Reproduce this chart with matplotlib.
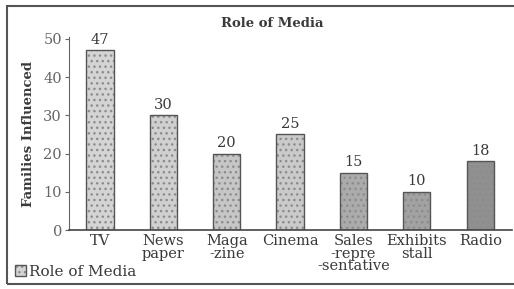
import matplotlib.pyplot as plt
from matplotlib.patches import Rectangle

media = ["TV", "News\npaper", "Maga\n-zine", "Cinema", "Sales\n-repre\n-sentative", "Exhibits\nstall", "Radio"]
families = [47, 30, 20, 25, 15, 10, 18]
shades = ["#d4d4d4", "#d0d0d0", "#c6c6c6", "#cacaca", "#ababab", "#a2a2a2", "#909090"]

plt.rcParams['font.family'] = ['DejaVu Serif']
ink = "#3a3a3a"

fig = plt.figure(figsize=(5.14, 2.89), dpi=100)
ax = fig.add_axes([0.134, 0.204, 0.862, 0.668])

bars = ax.bar(range(len(media)), families, width=0.43, color=shades,
              edgecolor="#555555", linewidth=1.0, hatch="...", label="Role of Media")
for b in bars:
    b._hatch_color = (0.55, 0.55, 0.55, 1.0)

for i, v in enumerate(families):
    ax.text(i, v + 0.9, str(v), ha="center", va="bottom", fontsize=10.5, color=ink)

ax.set_xlim(-0.49, 6.5)
ax.set_ylim(0, 50.5)
ax.set_yticks([0, 10, 20, 30, 40, 50])
ax.set_xticks(range(len(media)))
ax.set_xticklabels(media, fontsize=10.5, color=ink, linespacing=0.85)
ax.tick_params(axis="x", length=0, pad=3)
ax.tick_params(axis="y", labelsize=10.5, labelcolor="#666666", length=3, color="#666666", pad=2)
for s in ["top", "right"]:
    ax.spines[s].set_visible(False)
ax.spines["left"].set_color("#666666")
ax.spines["bottom"].set_color("#444444")
ax.spines["bottom"].set_linewidth(1.2)

ax.set_ylabel("Families Influenced", fontsize=9.5, fontweight="bold", color=ink, labelpad=6)
fig.text(0.53, 0.92, "Role of Media", ha="center", va="center", fontsize=9.5,
         fontweight="bold", color=ink)

leg = ax.legend(loc="lower left", bbox_to_anchor=(0.03, 0.035), bbox_transform=fig.transFigure,
                frameon=False, fontsize=11, handlelength=0.7, handleheight=0.7,
                handletextpad=0.2, borderpad=0, borderaxespad=0)
for t in leg.get_texts():
    t.set_color(ink)

fig.patches.append(Rectangle((0.014, 0.017), 0.99, 0.963, transform=fig.transFigure,
                             fill=False, edgecolor="#555555", linewidth=1.5))

fig.savefig("out.png", dpi=100)
